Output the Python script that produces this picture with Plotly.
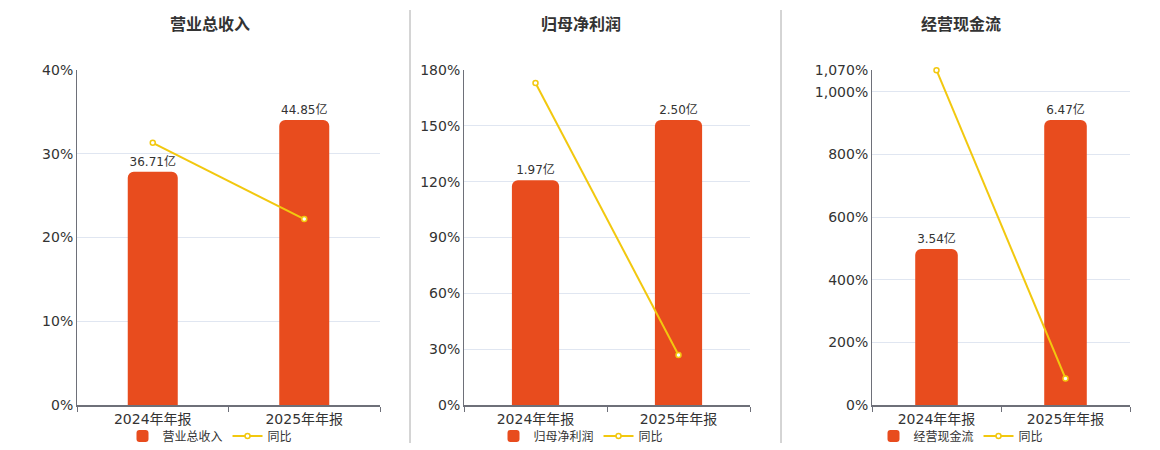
import plotly.graph_objects as go

# 数据
periods = ["2024年年报", "2025年年报"]

titles = ["营业总收入", "归母净利润", "经营现金流"]
bar_values = [
    [36.71, 44.85],   # 营业总收入（亿）
    [1.97, 2.50],     # 归母净利润（亿）
    [3.54, 6.47],     # 经营现金流（亿）
]
yoy_values = [
    [31.3, 22.2],     # 同比 %
    [173.0, 26.9],
    [1069.5, 85.0],
]
yoy_ranges = [40, 180, 1070]
yoy_ticks = [
    [0, 10, 20, 30, 40],
    [0, 30, 60, 90, 120, 150, 180],
    [0, 200, 400, 600, 800, 1000, 1070],
]

BAR_COLOR = "#E84C1E"
LINE_COLOR = "#F2C80F"
FONT = "DejaVu Sans, Noto Sans CJK SC, sans-serif"

W, H = 1160, 450
# 像素位置 -> paper 坐标
x_domains = [(77, 380), (464, 750), (872, 1130)]
title_x = [210, 581, 961]
y_domain = [(450 - 405) / H, (450 - 70) / H]

fig = go.Figure()
layout = {}

for i in range(3):
    n = i + 1
    xa = "x" if n == 1 else f"x{n}"
    ya_bar = "y" if n == 1 else f"y{2 * n - 1}"   # 底层轴：柱
    ya_line = f"y{2 * n}"                          # 叠加轴：同比线，在柱之上
    legend_name = "legend" if n == 1 else f"legend{n}"

    fig.add_trace(go.Bar(
        x=periods, y=bar_values[i], name=titles[i],
        xaxis=xa, yaxis=ya_bar,
        marker=dict(color=BAR_COLOR, cornerradius=6, line=dict(width=0)),
        width=0.33,
        text=[f"{v:.2f}亿" for v in bar_values[i]],
        textposition="outside", cliponaxis=False,
        textfont=dict(size=12, color="#333333", family=FONT),
        legend=legend_name,
    ))
    fig.add_trace(go.Scatter(
        x=periods, y=yoy_values[i], name="同比",
        xaxis=xa, yaxis=ya_line, mode="lines+markers",
        line=dict(color=LINE_COLOR, width=2),
        marker=dict(size=5, color="white", line=dict(color=LINE_COLOR, width=1.5)),
        cliponaxis=False,
        legend=legend_name,
    ))

    d0, d1 = x_domains[i]
    xkey = "xaxis" if n == 1 else f"xaxis{n}"
    layout[xkey] = dict(
        domain=[d0 / W, d1 / W], anchor=ya_bar,
        type="category", showline=True, linecolor="#6E7079", linewidth=1.5,
        ticks="outside", tickson="boundaries", ticklen=5, tickcolor="#6E7079",
        tickfont=dict(size=14, color="#333333", family=FONT),
        showgrid=False, automargin=False,
    )
    bkey = "yaxis" if n == 1 else f"yaxis{2 * n - 1}"
    layout[bkey] = dict(
        domain=y_domain, anchor=xa,
        range=[0, max(bar_values[i]) / 0.851],
        showgrid=False, showticklabels=False, showline=False, zeroline=False,
        automargin=False,
    )
    lkey = f"yaxis{2 * n}"
    tv = yoy_ticks[i]
    layout[lkey] = dict(
        overlaying=ya_bar, anchor=xa, side="left", range=[0, yoy_ranges[i]],
        tickvals=tv, ticktext=[f"{v:,}%" for v in tv],
        showline=True, linecolor="#6E7079", linewidth=1,
        showgrid=True, gridcolor="#E0E6F1", gridwidth=1,
        zeroline=False, ticks="", ticklen=0,
        tickfont=dict(size=14, color="#333333", family=FONT),
        automargin=False,
    )
    layout[legend_name] = dict(
        orientation="h", x=title_x[i] / W, xanchor="center",
        y=(450 - 436) / H, yanchor="middle",
        font=dict(size=12, color="#333333", family=FONT),
        bgcolor="rgba(0,0,0,0)", tracegroupgap=0,
    )

fig.update_layout(**layout)

# 面板标题
for i in range(3):
    fig.add_annotation(
        x=title_x[i] / W, y=1 - 23 / H, xref="paper", yref="paper",
        xanchor="center", yanchor="middle",
        text=f"<b>{titles[i]}</b>", showarrow=False,
        font=dict(size=16, color="#333333", family="Noto Sans CJK SC, sans-serif"),
    )

# 分隔线
for sx in [410, 781]:
    fig.add_shape(type="line", xref="paper", yref="paper",
                  x0=sx / W, x1=sx / W, y0=1 - 10 / H, y1=1 - 443 / H,
                  line=dict(color="#AAAAAA", width=1))

fig.update_layout(
    width=W, height=H,
    margin=dict(l=0, r=0, t=0, b=0, autoexpand=False),
    paper_bgcolor="white", plot_bgcolor="white",
    showlegend=True,
    font=dict(family=FONT),
)

fig.write_html("out.html", config={"displayModeBar": False},
               post_script="document.body.style.margin='0';")
